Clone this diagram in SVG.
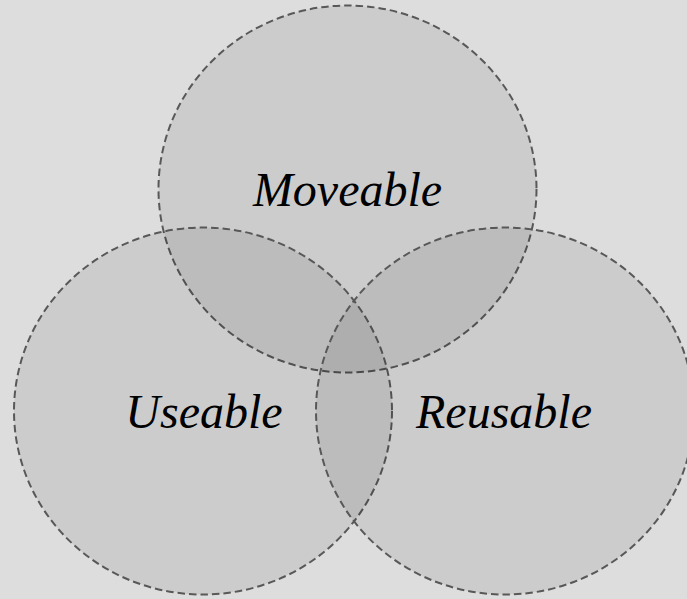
<svg xmlns="http://www.w3.org/2000/svg" width="687" height="599" viewBox="0 0 687 599">
  <style>
    .set { fill: #000000; fill-opacity: 0.075; stroke: #585858; stroke-width: 2; stroke-dasharray: 7.5 4; }
    .lbl { font-family: "Liberation Serif", "Times New Roman", serif; font-style: italic; font-size: 48px; fill: #000000; text-anchor: middle; }
  </style>
  <rect x="0" y="0" width="687" height="599" fill="#dddddd"/>
  <g id="moveable">
    <ellipse class="set" cx="347.5" cy="189" rx="189" ry="183.5"/>
    <text class="lbl" x="347.5" y="206">Moveable</text>
  </g>
  <g id="useable">
    <ellipse class="set" cx="203" cy="411" rx="189" ry="183.5"/>
    <text class="lbl" x="204" y="428">Useable</text>
  </g>
  <g id="reusable">
    <ellipse class="set" cx="505" cy="411" rx="189" ry="183.5"/>
    <text class="lbl" x="504" y="428">Reusable</text>
  </g>
  <g id="connectors"/>
</svg>
